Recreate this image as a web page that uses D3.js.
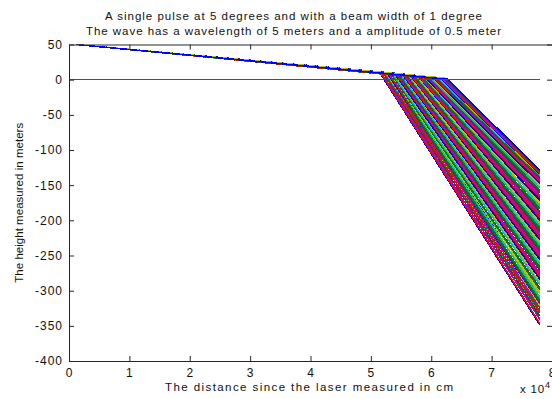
<!DOCTYPE html>
<html><head><meta charset="utf-8">
<script src="https://cdn.jsdelivr.net/npm/d3@7"></script>
<style>
html,body{margin:0;padding:0;background:#fff;}
svg{display:block;font-family:"Liberation Sans",Arial,Helvetica,sans-serif;}
</style></head>
<body>
<svg id="chart" width="552" height="399"></svg>
<script>
// ---- data ----
const titleLines = [
  "A single pulse at 5 degrees and with a beam width of 1 degree",
  "The wave has a wavelength of 5 meters and a amplitude of 0.5 meter"
];
const xLabel = "The distance since the laser measured in cm";
const yLabel = "The height measured in meters";
const xTicks = [0, 10000, 20000, 30000, 40000, 50000, 60000, 70000, 80000];
const yTicks = [-400, -350, -300, -250, -200, -150, -100, -50, 0, 50];

const startX = 1150, startY = 50;   // laser position
const endX = 78000;                   // last sample of every ray
const zeroLineX = [0, 78000], zeroLineY = [0, 0];

// break (surface hit) x, in units of 10^4 cm
const breakX = [
5.150,5.162,5.171,5.175,5.190,5.196,5.212,5.214,5.230,5.236,
5.247,5.256,5.265,5.270,5.284,5.291,5.303,5.310,5.318,5.329,
5.338,5.346,5.355,5.366,5.374,5.385,5.392,5.402,5.411,5.418,
5.430,5.438,5.449,5.455,5.466,5.474,5.486,5.493,5.502,5.511,
5.520,5.531,5.538,5.547,5.558,5.565,5.576,5.584,5.593,5.602,
5.612,5.619,5.630,5.639,5.647,5.658,5.665,5.676,5.685,5.693,
5.703,5.712,5.721,5.729,5.740,5.748,5.757,5.766,5.775,5.784,
5.792,5.803,5.811,5.820,5.829,5.838,5.847,5.856,5.864,5.874,
5.882,5.892,5.900,5.909,5.919,5.927,5.936,5.946,5.954,5.963,
5.972,5.982,5.990,6.000,6.008,6.018,6.027,6.035,6.045,6.054,
6.063,6.072,6.081,6.090,6.099,6.108,6.117,6.126,6.136,6.144,
6.153,6.163,6.171,6.180,6.190,6.199,6.208,6.217,6.235,6.270
];
// break height (m)
const breakY = [
9.6,10.7,8.6,9.9,8.0,10.1,8.7,10.6,8.0,9.2,
8.8,10.0,7.9,9.1,7.2,9.4,8.0,9.8,7.2,8.5,
8.1,9.2,7.1,8.4,6.5,8.6,7.2,9.1,6.5,7.7,
7.3,8.5,6.4,7.6,5.7,7.9,6.5,8.3,5.7,7.0,
6.6,7.7,5.6,6.9,5.0,7.1,5.7,7.6,5.0,6.2,
5.8,7.0,4.9,6.1,4.2,6.3,5.0,6.8,4.2,5.4,
5.1,6.2,4.1,5.3,3.5,5.6,4.2,6.0,3.5,4.7,
4.3,5.4,3.4,4.6,2.7,4.8,3.5,5.3,2.7,3.9,
3.6,4.7,2.6,3.8,2.0,4.1,2.7,4.5,2.0,3.2,
2.8,3.9,1.9,3.1,1.2,3.3,2.0,3.8,1.2,2.4,
2.1,3.2,1.1,2.3,0.5,2.6,1.2,3.0,0.5,1.7,
1.3,2.4,0.3,1.6,0.2,1.8,0.4,2.3,0.2,0.6
];
// height at the last sample (m)
const endY = [
-349,-340,-347,-332,-341,-322,-336,-318,-329,-331,
-312,-325,-305,-318,-300,-314,-296,-309,-288,-302,
-297,-283,-299,-280,-292,-275,-288,-270,-284,-266,
-279,-262,-276,-258,-271,-255,-268,-250,-263,-246,
-259,-243,-256,-238,-252,-234,-248,-231,-243,-226,
-240,-222,-236,-219,-232,-214,-228,-211,-224,-206,
-220,-202,-216,-198,-212,-195,-208,-190,-204,-187,
-200,-183,-196,-179,-192,-175,-188,-171,-184,-167,
-180,-164,-176,-160,-172,-157,-168,-153,-165,-150,
-161,-147,-157,-144,-154,-141,-151,-139,-148,-137,
-145,-135,-142,-134,-140,-133,-138,-132,-136,-131,
-135,-131,-134,-130,-133,-130,-131,-129,-130,-129
];
// MATLAB default colour order
const colorOrder = ["#0000ff","#008000","#ff0000","#00bfbf","#bf00bf","#bfbf00","#404040"];

// ---- drawing ----
const svg = d3.select("#chart");
const W = 552, H = 399;
const m = {left: 69, right: 552, top: 44.5, bottom: 361};

const x = d3.scaleLinear().domain([0, 80000]).range([m.left, m.right]);
const y = d3.scaleLinear().domain([-400, 50]).range([m.bottom, m.top]);

svg.append("rect").attr("width", W).attr("height", H).attr("fill", "#fff");

svg.append("defs").append("clipPath").attr("id", "clip")
  .append("rect").attr("x", m.left).attr("y", m.top)
  .attr("width", m.right - m.left).attr("height", m.bottom - m.top);

const rays = breakX.map((bx, i) => [
  [startX, startY],
  [bx * 10000, breakY[i]],
  [endX, endY[i]]
]);

const line = d3.line().x(d => x(d[0])).y(d => y(d[1]));
const g = svg.append("g").attr("clip-path", "url(#clip)");
g.selectAll("path.ray").data(rays).join("path")
  .attr("class", "ray")
  .attr("d", line)
  .attr("fill", "none")
  .attr("stroke", (d, i) => colorOrder[i % colorOrder.length])
  .attr("stroke-width", 1.5)
  .attr("shape-rendering", "crispEdges");

g.append("path")
  .attr("d", line(zeroLineX.map((v, i) => [v, zeroLineY[i]])))
  .attr("fill", "none").attr("stroke", "#bf00bf").attr("stroke-width", 1)
  .attr("shape-rendering", "crispEdges");

// axes
const axisColor = "#262626";
const fs = 12;
function styleAxis(sel) {
  sel.selectAll("path.domain").attr("stroke", axisColor);
  sel.selectAll(".tick line").attr("stroke", axisColor);
  sel.selectAll("text").attr("fill", "#111").attr("font-size", fs)
     .attr("letter-spacing", 1)
     .attr("font-family", "\"Liberation Sans\",Arial,sans-serif");
}
const xb = svg.append("g").attr("transform", `translate(0,${m.bottom})`)
  .call(d3.axisBottom(x).tickValues(xTicks).tickSizeInner(-5).tickSizeOuter(0)
        .tickPadding(7).tickFormat(d => String(d / 10000)));
styleAxis(xb);
const xt = svg.append("g").attr("transform", `translate(0,${m.top})`)
  .call(d3.axisTop(x).tickValues(xTicks).tickSizeInner(-5).tickSizeOuter(0).tickFormat(""));
styleAxis(xt);
const yl = svg.append("g").attr("transform", `translate(${m.left},0)`)
  .call(d3.axisLeft(y).tickValues(yTicks).tickSizeInner(-5).tickSizeOuter(0)
        .tickPadding(6).tickFormat(d => String(d)));
styleAxis(yl);
const yr = svg.append("g").attr("transform", `translate(${m.right},0)`)
  .call(d3.axisRight(y).tickValues(yTicks).tickSizeInner(-5).tickSizeOuter(0).tickFormat(""));
styleAxis(yr);
svg.selectAll("path.domain").attr("stroke-width", 1);

// titles & labels
const tcx = 293.5;
svg.append("text").attr("x", tcx).attr("y", 19.5).attr("text-anchor", "middle")
  .attr("font-size", 11.5).attr("fill", "#111")
  .attr("textLength", 377).attr("lengthAdjust", "spacing").text(titleLines[0]);
svg.append("text").attr("x", tcx).attr("y", 34.5).attr("text-anchor", "middle")
  .attr("font-size", 11.5).attr("fill", "#111")
  .attr("textLength", 415).attr("lengthAdjust", "spacing").text(titleLines[1]);
svg.append("text").attr("x", 309).attr("y", 391).attr("text-anchor", "middle")
  .attr("font-size", 11.5).attr("fill", "#111")
  .attr("textLength", 288).attr("lengthAdjust", "spacing").text(xLabel);
svg.append("text").attr("transform", `translate(23,${(m.top + m.bottom) / 2}) rotate(-90)`)
  .attr("text-anchor", "middle").attr("font-size", 11.5).attr("fill", "#111")
  .attr("textLength", 160).attr("lengthAdjust", "spacing").text(yLabel);
const ex = svg.append("text").attr("x", 520).attr("y", 393).attr("font-size", 11.5)
  .attr("fill", "#111").attr("letter-spacing", 0.8);
ex.append("tspan").text("x 10");
ex.append("tspan").attr("dy", -5).attr("font-size", 9).text("4");
</script>
</body></html>
